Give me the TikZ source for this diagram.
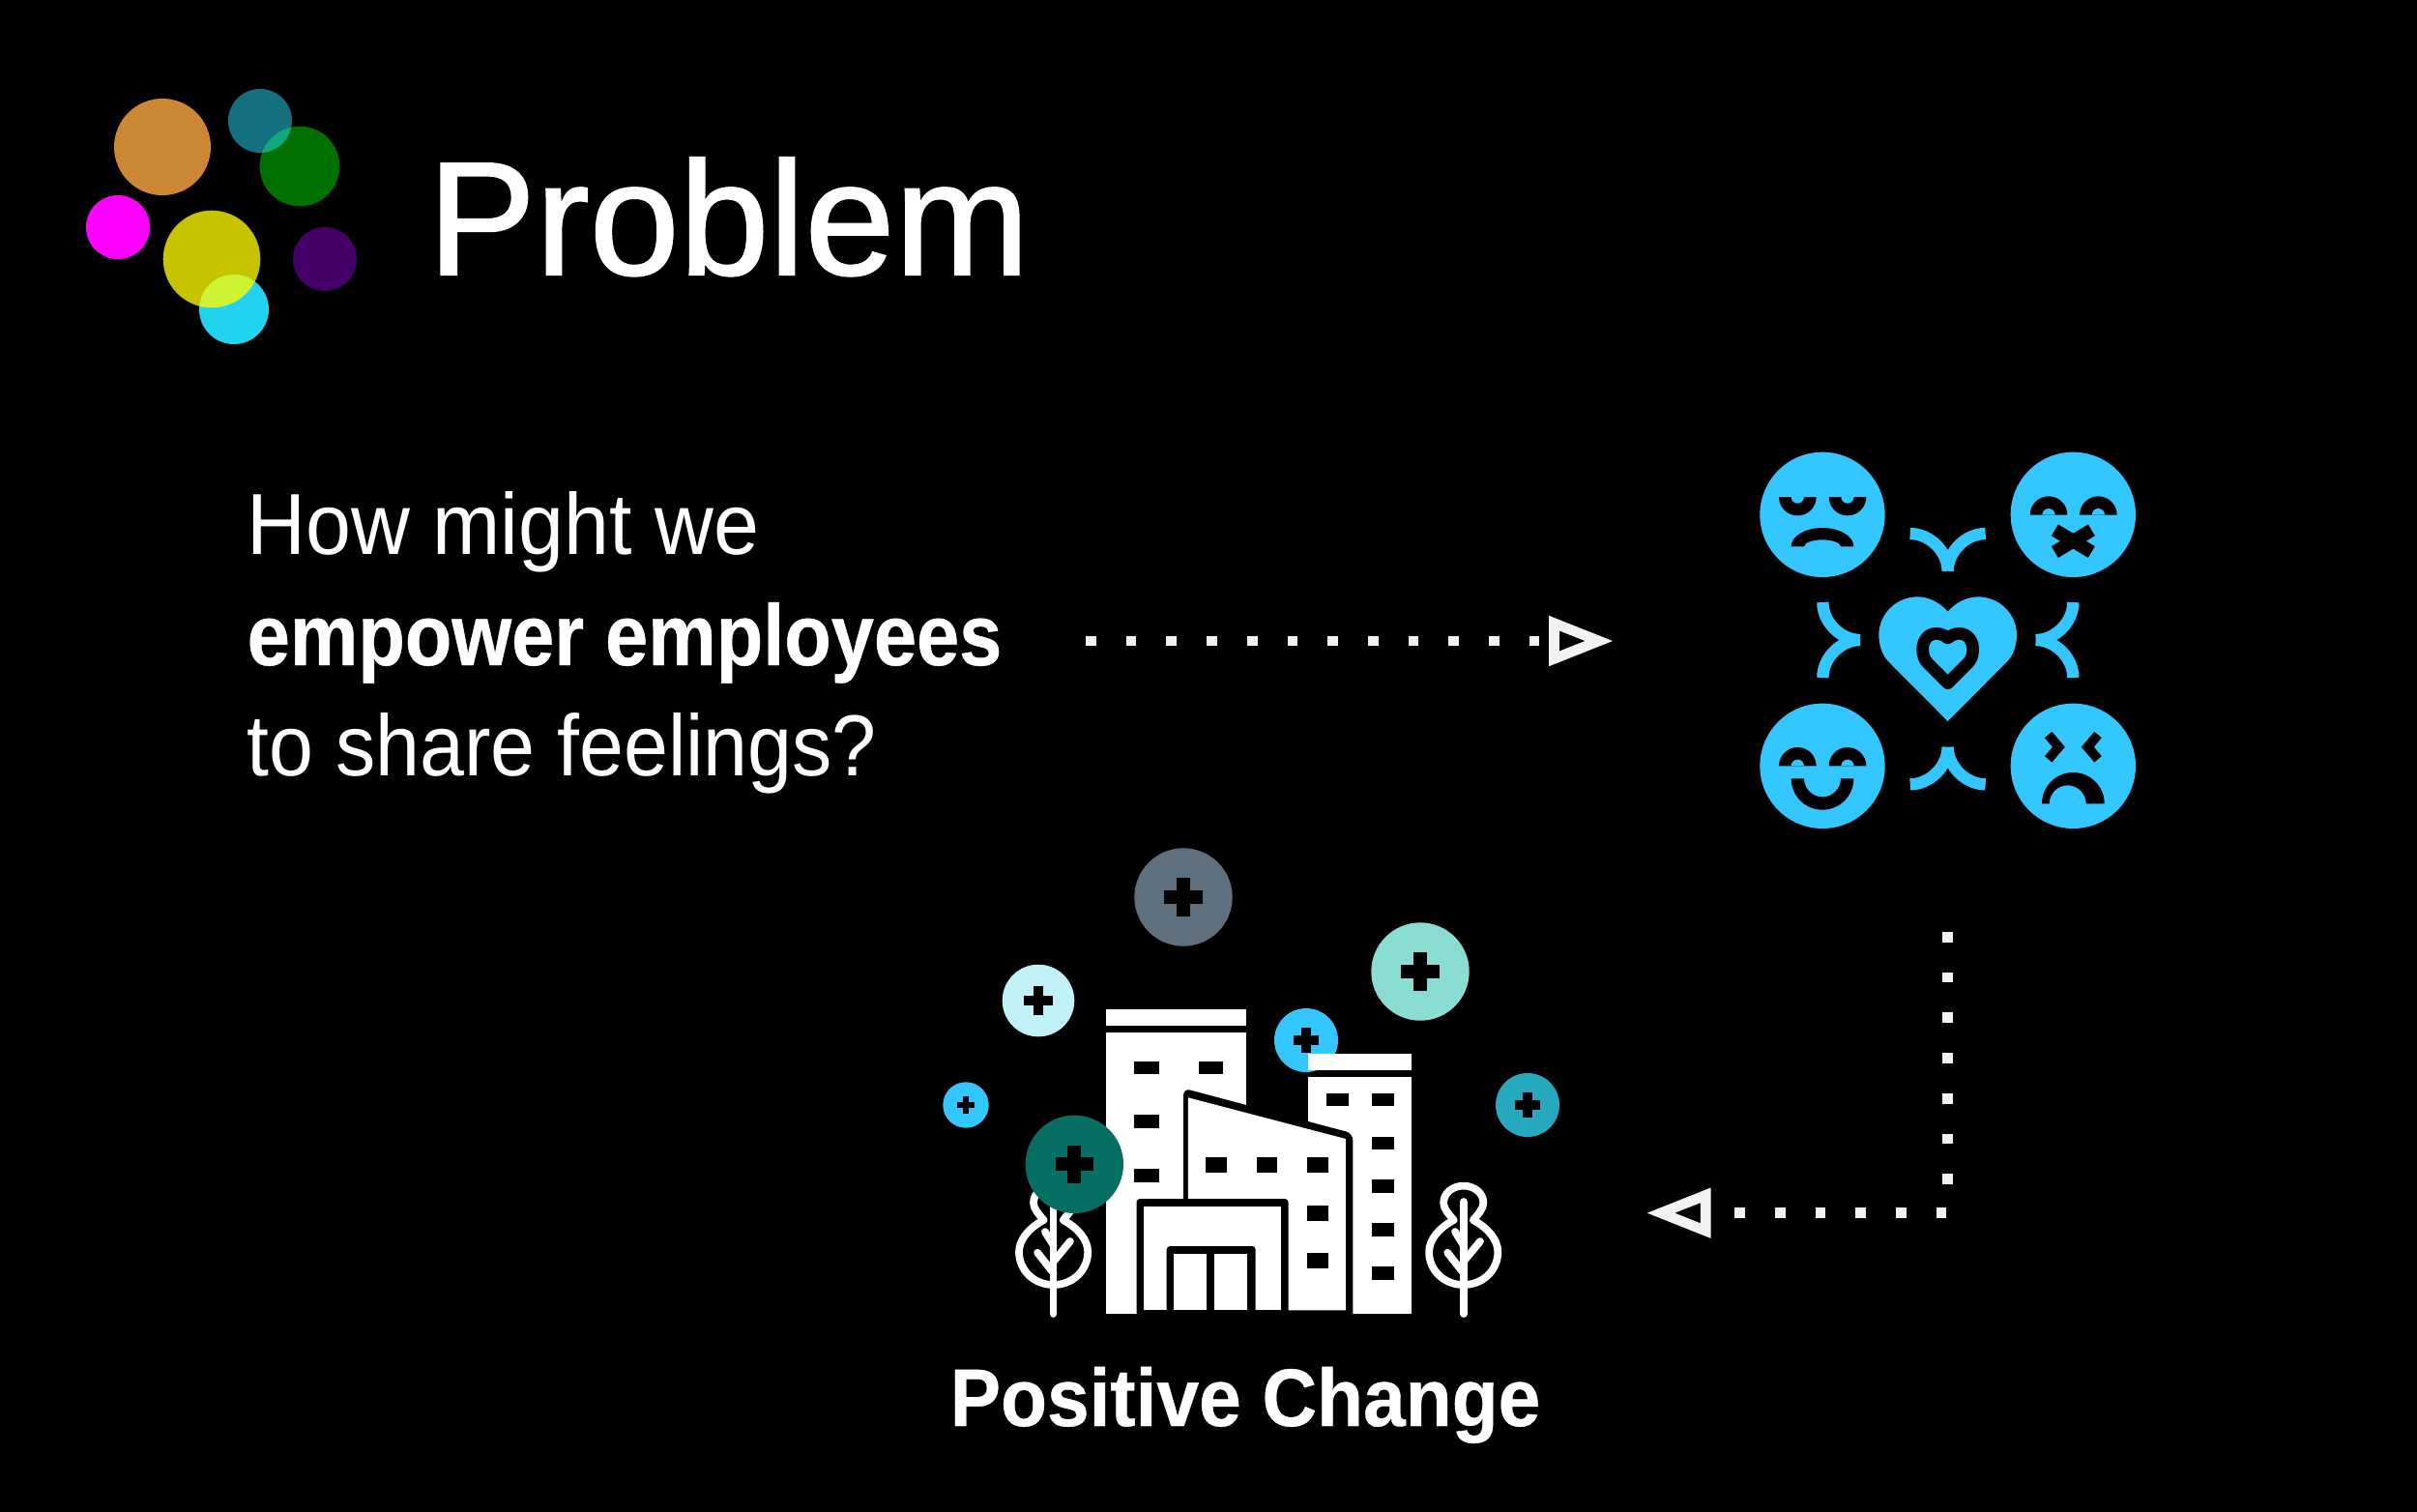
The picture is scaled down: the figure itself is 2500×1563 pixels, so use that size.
\documentclass[tikz,border=0pt]{standalone}
\usepackage{fontspec}
\setmainfont{Liberation Sans}
\newfontfamily\titlefont{Liberation Sans}[FakeBold=1.2]
\newfontfamily\lightfont{Liberation Sans}[FakeStretch=0.94]
\newfontfamily\narrowfont{Liberation Sans}[FakeStretch=0.92]
\newfontfamily\heavyfont{Liberation Sans}[FakeStretch=0.885, BoldFeatures={FakeStretch=0.885, FakeBold=0.5}]
\newfontfamily\capfont{Liberation Sans}[BoldFeatures={FakeStretch=0.93, FakeBold=0.5}]
\usetikzlibrary{arrows.meta}

\definecolor{iconblue}{HTML}{33C6FF}
\definecolor{dotwhite}{HTML}{F2F2F2}

\tikzset{
	title/.style={anchor=base west, inner sep=0pt, text=white, font=\titlefont\fontsize{47.5}{47.5}\selectfont},
	question/.style={anchor=base west, inner sep=0pt, text=white, font=\lightfont\fontsize{25.5}{25.5}\selectfont},
	highlight/.style={anchor=base west, inner sep=0pt, text=white, font=\heavyfont\fontsize{25.5}{25.5}\selectfont\bfseries},
	caption/.style={anchor=base west, inner sep=0pt, text=white, font=\capfont\fontsize{24}{24}\selectfont\bfseries},
	dotted line/.style={
		draw=dotwhite, line width=3.04pt, dash pattern=on 3.04pt off 8.82pt,
		-{Triangle[open, length=19pt, width=14pt, line width=3pt]}
	},
	tree/.style={draw=white, line width=2.2pt, line cap=round, line join=round}
}

% half disc with a small notch, used for the eyes
\newcommand{\eyeup}[2]{
	\fill [black] (#1-58, #2) arc [start angle=180, end angle=360, radius=58] -- cycle;
	\fill [iconblue] (#1-20, #2) arc [start angle=180, end angle=360, radius=20] -- cycle;
}
\newcommand{\eyedown}[2]{
	\fill [black] (#1-58, #2) arc [start angle=180, end angle=0, radius=58] -- cycle;
	\fill [iconblue] (#1-20, #2) arc [start angle=180, end angle=0, radius=20] -- cycle;
}

\begin{document}
\begin{tikzpicture}[x=0.01cm, y=-0.01cm]
	\useasboundingbox (0, 0) rectangle (2500, 1563);
	\fill [black] (-5, -5) rectangle (2505, 1568);

	% logo
	\fill [color={rgb,255:red,204;green,136;blue,51}] (168, 152) circle (50);
	\fill [color={rgb,255:red,255;green,0;blue,255}] (122, 235) circle (33);
	\fill [color={rgb,255:red,68;green,0;blue,102}] (336, 268) circle (33);
	\fill [color={rgb,255:red,0;green,112;blue,0}] (310, 172) circle (41.3);
	\fill [color={rgb,255:red,40;green,224;blue,255}, opacity=0.5] (269, 125) circle (33);
	\fill [color={rgb,255:red,34;green,211;blue,240}] (242, 320) circle (36);
	\fill [color={rgb,255:red,255;green,251;blue,0}, opacity=0.78] (219, 268) circle (50.3);

	\node (problem) at (442, 284) [title] {Problem};
	\node (line one) at (255, 573) [question] {How might we};
	\node (line two) at (255, 688) [highlight] {empower employees};
	\node (line three) at (255, 802) [question, font=\narrowfont\fontsize{25.5}{25.5}\selectfont] {to share feelings?};
	\node (change) at (982, 1475) [caption] {Positive Change};

	% connectors
	\coordinate (hstart) at (1123, 663);
	\coordinate (hend) at (1669, 663);
	\coordinate (vstart) at (2014.7, 964);
	\coordinate (vcorner) at (2014.7, 1254.7);
	\coordinate (vend) at (1702.7, 1254.7);

	\draw
		[dotted line] (hstart) -- (hend);

	\draw
		[dotted line] (vstart) -- (vcorner) -- (vend);

	% feelings icon, drawn in units of a third of a pixel
	\begin{scope}[shift={(1780, 440)}, scale=1/3]
		\foreach \fx/\fy in {315/277, 1093/277, 315/1057, 1093/1057}
			\fill [iconblue] (\fx, \fy) circle (194);

		\eyedown{238}{222}
		\eyedown{393}{222}
		\fill [black] (218, 376) arc [start angle=180, end angle=360, x radius=97, y radius=58]
			-- (372, 376) arc [start angle=360, end angle=180, x radius=57, y radius=21] -- cycle;

		\eyeup{1017}{278}
		\eyeup{1171}{278}
		\draw
			[black, line width=3.9pt] (1036, 325) -- (1150, 393);
		\draw
			[black, line width=3.9pt] (1150, 325) -- (1036, 393);

		\eyeup{238}{1057}
		\eyeup{393}{1057}
		\fill [black] (218, 1096) arc [start angle=180, end angle=0, radius=97]
			-- (372, 1096) arc [start angle=0, end angle=180, radius=57] -- cycle;

		\draw
			[black, line width=2.8pt] (1016, 960) -- (1048, 998) -- (1016, 1036);
		\draw
			[black, line width=2.8pt] (1170, 960) -- (1138, 998) -- (1170, 1036);
		\fill [black] (996, 1174) arc [start angle=180, end angle=360, radius=97]
			-- (1133, 1174) arc [start angle=360, end angle=180, radius=57] -- cycle;

		% heart
		\fill [iconblue]
			(704, 918) -- (520, 733)
			.. controls (500, 713) and (490, 680) .. (490, 650)
			.. controls (490, 585) and (545, 532) .. (610, 532)
			.. controls (645, 532) and (680, 550) .. (704, 578)
			.. controls (728, 550) and (763, 532) .. (798, 532)
			.. controls (863, 532) and (918, 585) .. (918, 650)
			.. controls (918, 680) and (908, 713) .. (888, 733)
			-- cycle;
		\draw
			[black, fill=iconblue, line width=3.6pt, line join=round]
			(704, 800) -- (642, 738)
			.. controls (632, 728) and (626, 715) .. (626, 695)
			.. controls (626, 665) and (645, 646) .. (668, 646)
			.. controls (682, 646) and (695, 652) .. (704, 660)
			.. controls (713, 652) and (726, 646) .. (740, 646)
			.. controls (763, 646) and (782, 665) .. (782, 695)
			.. controls (782, 715) and (776, 728) .. (766, 738)
			-- cycle;

		\foreach \tx/\ty/\ta in {704/452/0, 432/666/90, 977/666/-90, 704/998/180}
			\draw
				[iconblue, line width=3.5pt, shift={(\tx, \ty)}, rotate=\ta]
				(-117, -116) .. controls (-55, -116) and (0, -60) .. (0, 0)
				(117, -116) .. controls (55, -116) and (0, -60) .. (0, 0);
	\end{scope}

	% plus circles behind the buildings
	\foreach \px/\py/\pr/\pc in {1224/928/50.7/5E6F7D, 1469/1005/50.7/8ADDD2, 1074/1035/37.3/C0F1F7, 1351/1076/33/33C6FF, 999/1143/23.7/33C6FF, 1580/1143/33/26A9BF}
	{
		\definecolor{pluscolor}{HTML}{\pc}
		\begin{scope}[shift={(\px, \py)}, scale=\pr]
			\fill [pluscolor] (0, 0) circle (1);
			\fill [black] (-0.39, -0.14) rectangle (0.39, 0.14);
			\fill [black] (-0.14, -0.39) rectangle (0.14, 0.39);
		\end{scope}
	}

	% left tower
	\fill [white] (1144.3, 1043.7) rectangle (1289.1, 1060.7);
	\fill [white] (1144.3, 1068.3) rectangle (1289.1, 1359.3);
	\foreach \wx/\wy in {1173.3/1097.7, 1239.7/1097.7, 1173.3/1153.3, 1173.3/1209}
		\fill [black] (\wx, \wy) rectangle +(25.2, 13.6);

	% right tower
	\fill [white] (1352.9, 1089.7) rectangle (1459.5, 1106.7);
	\fill [white] (1352.9, 1114.3) rectangle (1459.5, 1359.3);
	\foreach \wx/\wy in {1372.4/1130.7, 1418.8/1130.7, 1418.8/1175.7, 1418.8/1220.3, 1418.8/1265.3, 1418.8/1310}
		\fill [black] (\wx, \wy) rectangle +(23, 13.7);

	% middle block
	\fill [black] (1224.1, 1359.3) [rounded corners=2pt] -- (1224.1, 1125.7) -- (1399.3, 1172.3) [sharp corners] -- (1399.3, 1359.3) -- cycle;
	\fill [white] (1228.8, 1135.3) -- (1391.9, 1178) -- (1391.9, 1355.3) -- (1228.8, 1355.3) -- cycle;
	\fill [black] (1175.5, 1359.3) [rounded corners=1pt] -- (1175.5, 1240) -- (1332.5, 1240) [sharp corners] -- (1332.5, 1359.3) -- cycle;
	\fill [white] (1183.3, 1248.3) rectangle (1324.7, 1355.3);
	\fill [black] (1206.7, 1355.3) [rounded corners=1pt] -- (1206.7, 1289) -- (1298.7, 1289) [sharp corners] -- (1298.7, 1355.3) -- cycle;
	\fill [white] (1214.1, 1296.7) rectangle (1247.9, 1355.3);
	\fill [white] (1256.2, 1296.7) rectangle (1290.4, 1355.3);
	\foreach \wx/\wy in {1247/1197.3, 1299.5/1197.3, 1352.4/1197.3, 1352.4/1247, 1352.4/1296.3}
		\fill [black] (\wx, \wy) rectangle +(21.7, 16);

	% trees
	\foreach \tx in {1089.6, 1513.7}
	{
		\begin{scope}[shift={(\tx, 0)}]
			\draw
				[tree] (-10, 1262) .. controls (-16, 1255) and (-20.6, 1250) .. (-20.6, 1244)
				.. controls (-20.6, 1234) and (-11, 1226.6) .. (0, 1226.6)
				.. controls (11, 1226.6) and (20.6, 1234) .. (20.6, 1244)
				.. controls (20.6, 1250) and (16, 1255) .. (10, 1262)
				.. controls (25, 1270) and (35.6, 1282) .. (35.6, 1295)
				.. controls (35.6, 1314) and (20, 1329) .. (0, 1329)
				.. controls (-20, 1329) and (-35.6, 1314) .. (-35.6, 1295)
				.. controls (-35.6, 1282) and (-25, 1270) .. (-10, 1262);
			\draw
				[tree] (0, 1243) -- (0, 1359);
			\draw
				[tree] (0, 1316.7) -- (-16.5, 1295.7);
			\draw
				[tree] (0, 1305) -- (17.3, 1284);
			\draw
				[tree] (0, 1288) -- (-8.7, 1274);
		\end{scope}
	}

	% plus circle in front
	\fill [color={rgb,255:red,7;green,110;blue,100}] (1111.3, 1204.3) circle (50.7);
	\begin{scope}[shift={(1111.3, 1204.3)}, scale=50.7]
		\fill [black] (-0.39, -0.14) rectangle (0.39, 0.14);
		\fill [black] (-0.14, -0.39) rectangle (0.14, 0.39);
	\end{scope}
\end{tikzpicture}
\end{document}
